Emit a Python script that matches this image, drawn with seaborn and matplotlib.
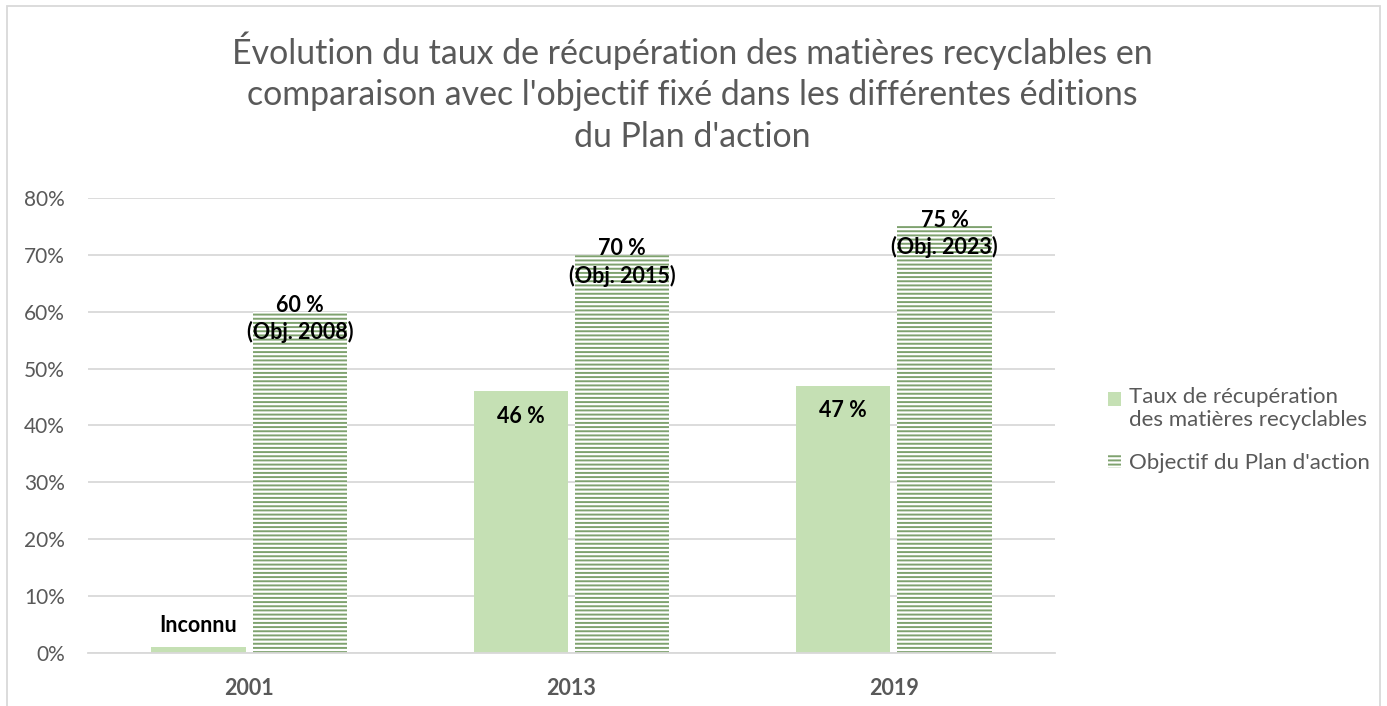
import matplotlib
matplotlib.use('Agg')
import matplotlib.pyplot as plt
from matplotlib.patches import Rectangle, Patch
from matplotlib.legend_handler import HandlerPatch
from matplotlib.ticker import PercentFormatter
import pandas as pd
import seaborn as sns

annees = ['2001', '2013', '2019']
taux = [0.01, 0.46, 0.47]
objectif = [0.60, 0.70, 0.75]
taux_labels = ['Inconnu', '46 %', '47 %']
obj_labels = ['60 %\n(Obj. 2008)', '70 %\n(Obj. 2015)', '75 %\n(Obj. 2023)']
series = ["Taux de récupération\ndes matières recyclables", "Objectif du Plan d'action"]

vert_clair = '#C5E0B4'
vert_raye = '#7FA26F'
gris = '#595959'

sns.set_style('white')
plt.rcParams['font.family'] = ['Lato', 'DejaVu Sans']
plt.rcParams['hatch.linewidth'] = 1.4
plt.rcParams['hatch.color'] = vert_raye

df = pd.DataFrame({
    'annee': annees * 2,
    'valeur': taux + objectif,
    'serie': [series[0]] * 3 + [series[1]] * 3,
})

fig = plt.figure(figsize=(13.87, 7.06), dpi=100)
ax = fig.add_axes([88 / 1387, 53 / 706, 967 / 1387, 455 / 706])

sns.barplot(data=df, x='annee', y='valeur', hue='serie', palette=[vert_clair, 'white'],
            width=0.63, gap=0.07, saturation=1, errorbar=None, legend=False, ax=ax)

for p in ax.containers[0]:
    p.set_linewidth(0)
for p in ax.containers[1]:
    p.set_facecolor('white')
    p.set_edgecolor(vert_raye)
    p.set_hatch('----')
    p.set_linewidth(0)

# etiquettes des barres
for p, v, lab in zip(ax.containers[0], taux, taux_labels):
    cx = p.get_x() + p.get_width() / 2
    if lab == 'Inconnu':
        ax.text(cx, v + 0.039, lab, ha='center', va='center', fontsize=15.5, fontweight='bold', color='black')
    else:
        ax.text(cx, v - 0.044, lab, ha='center', va='center', fontsize=15.5, fontweight='bold', color='black')
for p, v, lab in zip(ax.containers[1], objectif, obj_labels):
    cx = p.get_x() + p.get_width() / 2
    ax.text(cx, v - 0.013, lab, ha='center', va='center', fontsize=15.5, fontweight='bold',
            color='black', linespacing=1.3)

ax.set_ylim(0, 0.8)
ax.set_xlim(-0.5, 2.5)
ax.set_yticks([i / 10 for i in range(9)])
ax.yaxis.set_major_formatter(PercentFormatter(1.0, decimals=0))
ax.yaxis.grid(True, color='#D9D9D9', lw=1.3)
ax.set_axisbelow(True)
for s in ['top', 'right', 'left']:
    ax.spines[s].set_visible(False)
ax.spines['bottom'].set_color('#D9D9D9')
ax.spines['bottom'].set_linewidth(1.3)
ax.tick_params(axis='both', length=0, colors=gris, labelsize=15)
ax.tick_params(axis='y', pad=16.5)
ax.tick_params(axis='x', pad=18, labelsize=15.5)
for t in ax.get_xticklabels():
    t.set_fontweight('bold')
ax.set_xlabel('')
ax.set_ylabel('')

fig.text(0.499, 1 - 31 / 706,
         "Évolution du taux de récupération des matières recyclables en\n"
         "comparaison avec l'objectif fixé dans les différentes éditions\n"
         "du Plan d'action",
         ha='center', va='top', fontsize=24.4, color=gris, linespacing=1.38)


# carre de legende aligne sur la premiere ligne du libelle
def carre_haut(legend, orig_handle, xdescent, ydescent, width, height, fontsize):
    decal = 0.0
    if orig_handle.get_hatch() is None:
        decal = 0.42 * fontsize
    return Rectangle((-xdescent, -ydescent + decal), width, height)


handles = [Patch(facecolor=vert_clair, edgecolor='none'),
           Patch(facecolor='white', edgecolor=vert_raye, hatch='----', linewidth=0)]
fig.legend(handles, series, loc='center left', bbox_to_anchor=(1097 / 1387, 276 / 706),
           frameon=False, fontsize=16, labelcolor=gris, handlelength=0.6, handleheight=0.6,
           handletextpad=0.32, labelspacing=1.05, borderpad=0,
           handler_map={Patch: HandlerPatch(patch_func=carre_haut)})

fig.patches.append(Rectangle((7 / 1387, -0.1), 1373 / 1387, 0.1 + 700 / 706,
                             transform=fig.transFigure, fill=False, ec='#D9D9D9', lw=1.3))

fig.savefig('out.png', dpi=100)
